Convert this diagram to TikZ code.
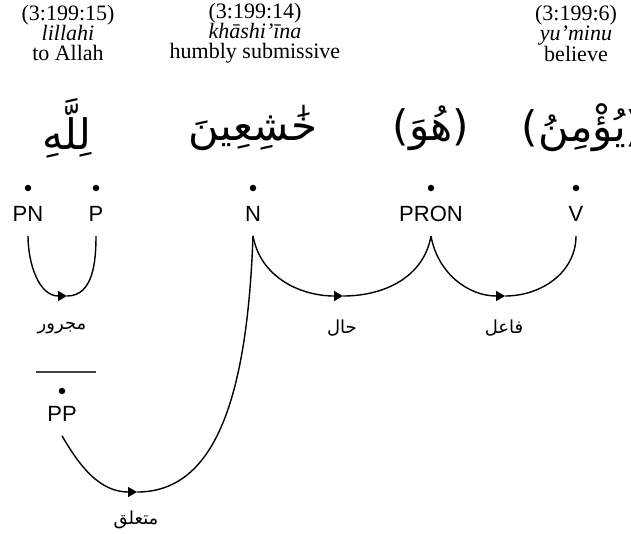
\documentclass[tikz,border=0pt]{standalone}
\usepackage{fontspec}
\setmainfont{Liberation Serif}
\newfontfamily\tagfont{Liberation Sans}
\newfontfamily\arabicfont[Script=Arabic]{DejaVu Sans}
\TeXXeTstate=1
\usetikzlibrary{arrows.meta}
\begin{document}
\begin{tikzpicture}[x=1pt,y=-1pt,
  head/.style={align=center, font=\fontsize{22}{20}\selectfont, inner sep=0pt},
  word/.style={font=\arabicfont\fontsize{42}{48}\selectfont, inner sep=0pt},
  tagbox/.style={font=\tagfont\fontsize{22}{26}\selectfont, inner sep=0pt},
  dotnode/.style={circle, fill=black, inner sep=0pt, minimum size=6.5pt},
  rel/.style={font=\arabicfont\fontsize{18}{22}\selectfont, inner sep=0pt},
  link/.style={line width=1.4pt},
  tip/.style={-{Triangle[length=9pt,width=10pt]}},
]
\useasboundingbox (0,0) rectangle (631,533);

% word headers: location, transliteration, gloss
\node[head] (h1) at (68,33)  {(3:199:15)\\\textit{lillahi}\\to Allah};
\node[head] (h2) at (255,33) {(3:199:14)\\\textit{khāshi’īna}\\humbly submissive};
\node[head] (h3) at (576,33) {(3:199:6)\\\textit{yu’minu}\\believe};

% Arabic words
\node[word] (w1) at (67,128)  {\beginR لِلَّهِ\endR};
\node[word] (w2) at (253,128) {\beginR خَٰشِعِينَ\endR};
\node[word] (w3) at (431,128) {\beginR (هُوَ)\endR};
\node[word] (w4) at (582,128) {\beginR (يُؤْمِنُ)\endR};

% segment dots
\node[dotnode] (d1) at (28,188)  {};
\node[dotnode] (d2) at (96,188)  {};
\node[dotnode] (d3) at (253,188) {};
\node[dotnode] (d4) at (431,188) {};
\node[dotnode] (d5) at (576,188) {};

% part-of-speech tags
\node[tagbox] (pn)   at (28,214)  {PN};
\node[tagbox] (p)    at (96,214)  {P};
\node[tagbox] (n)    at (253,214) {N};
\node[tagbox] (pron) at (431,214) {PRON};
\node[tagbox] (v)    at (576,214) {V};

% prepositional phrase
\coordinate (barL) at (36,372);
\coordinate (barR) at (96,372);
\draw[line width=1.4pt, black!75] (barL) -- (barR);
\node[dotnode] (d6) at (62,391) {};
\node[tagbox] (pp) at (62,414) {PP};

% arc bottoms
\coordinate (m1) at (67,296);
\coordinate (m2) at (343,296);
\coordinate (m3) at (505,296);
\coordinate (m4) at (137,492);

% dependency arcs
\draw[link,tip] ([yshift=-14pt]pn.south) to[out=-90,in=180] (m1);
\draw[link] (m1) to[out=0,in=-90] ([yshift=-14pt]p.south);

\draw[link,tip] ([yshift=-14pt]n.south) to[out=-80,in=180] (m2);
\draw[link] (m2) to[out=0,in=-100] ([yshift=-14pt]pron.south);

\draw[link,tip] ([yshift=-14pt]pron.south) to[out=-80,in=180] (m3);
\draw[link] (m3) to[out=0,in=-90] ([yshift=-14pt]v.south);

\draw[link,tip] ([yshift=-14pt]pp.south) to[out=-60,in=180] (m4);
\draw[link] (m4) .. controls +(75,0) and +(-6,170) .. ([yshift=-14pt]n.south);

% relation labels
\node[rel] (r1) at (62,328)  {\beginR مجرور\endR};
\node[rel] (r2) at (342,328) {\beginR حال\endR};
\node[rel] (r3) at (504,328) {\beginR فاعل\endR};
\node[rel] (r4) at (136,520) {\beginR متعلق\endR};
\end{tikzpicture}
\end{document}
